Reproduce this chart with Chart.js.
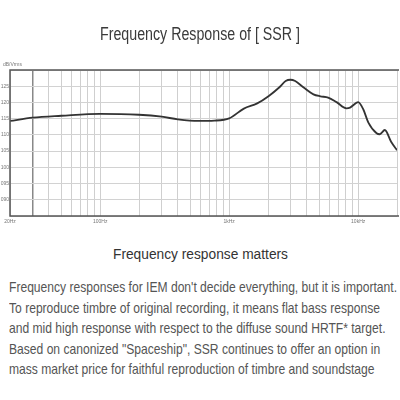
<!DOCTYPE html>
<html>
<head>
<meta charset="utf-8">
<script src="https://cdn.jsdelivr.net/npm/chart.js@4"></script>
<style>
  html, body { margin: 0; padding: 0; background: #fff; }
  body { width: 400px; height: 400px; position: relative; overflow: hidden; font-family: "Liberation Sans", sans-serif; }
  #wrap { position: absolute; left: 0; top: 0; width: 400px; height: 232px; }
  .t { position: absolute; white-space: nowrap; transform-origin: 0 0; }
  #title { top: 24px; font-size: 18px; color: #3a3a3a; }
  #unit { left: 3px; top: 61px; font-size: 5px; color: #777; }
  #sub { top: 245px; font-size: 15.5px; color: #333; }
  .p { left: 9px; font-size: 14.5px; color: #555; }
</style>
</head>
<body>
<div id="wrap"><canvas id="fr" width="400" height="232"></canvas></div>
<div class="t" id="title">Frequency Response of [ SSR ]</div>
<div class="t" id="unit">dB/Vrms</div>
<div class="t" id="sub">Frequency response matters</div>
<div class="t p" style="top:279px">Frequency responses for IEM don't decide everything, but it is important.</div>
<div class="t p" style="top:300px">To reproduce timbre of original recording, it means flat bass response</div>
<div class="t p" style="top:320px">and mid high response with respect to the diffuse sound HRTF* target.</div>
<div class="t p" style="top:341px">Based on canonized "Spaceship", SSR continues to offer an option in</div>
<div class="t p" style="top:361px">mass market price for faithful reproduction of timbre and soundstage</div>
<script>
// 頻率 (Hz)
const freqs = [20, 30, 50, 100, 200, 300, 400, 575, 770, 1000, 1300, 1650, 2030, 2440, 2740, 2980, 3250, 3780, 4500, 5100, 5850, 6800, 8100, 8650, 10000, 10950, 12000, 13900, 14700, 16100, 18000, 20000];
// 響應 (dB)
const levels = [114.3, 115.3, 115.9, 116.5, 116.2, 115.6, 114.8, 114.3, 114.4, 115.1, 118.1, 119.7, 122.0, 124.6, 126.6, 127.0, 126.6, 124.6, 122.5, 121.9, 121.5, 120.1, 118.2, 118.4, 120.1, 117.9, 113.8, 110.5, 110.2, 111.5, 107.9, 105.3];

// 刻度
const xLabels = { 20: '20Hz', 100: '100Hz', 1000: '1kHz', 10000: '10kHz' };
const yMin = 85, yMax = 130, yStep = 5;

// 對數格線 20Hz..20kHz
const xGrid = [];
for (let d = 10; d <= 10000; d *= 10) {
    for (let m = 1; m <= 9; m++) {
        const f = d * m;
        if (f >= 20 && f <= 20000) xGrid.push(f);
    }
}
xGrid.push(20000);

// 窄字體: 沒有 condensed 字型, 用 scaleX 壓縮
function squeeze(el, width, center) {
    const w = el.getBoundingClientRect().width;
    const s = width / w;
    el.style.transform = `scaleX(${s})`;
    if (center) el.style.left = (200 - width / 2) + 'px';
    return s;
}
squeeze(document.getElementById('title'), 200, true);
squeeze(document.getElementById('sub'), 175, true);
const paras = document.querySelectorAll('.p');
const ps = 388 / paras[0].getBoundingClientRect().width;
paras.forEach(el => { el.style.transform = `scaleX(${ps})`; });

// 外框
const frame = {
    id: 'frame',
    afterDraw(chart) {
        const { ctx, chartArea: a } = chart;
        ctx.save();
        ctx.strokeStyle = '#555';
        ctx.lineWidth = 1.5;
        ctx.beginPath();
        ctx.moveTo(a.right + 2, a.top);
        ctx.lineTo(a.left, a.top);
        ctx.lineTo(a.left, a.bottom);
        ctx.lineTo(a.right + 2, a.bottom);
        ctx.stroke();
        ctx.restore();
    }
};

new Chart(document.getElementById('fr'), {
    type: 'line',
    data: {
        datasets: [{
            data: freqs.map((f, i) => ({ x: f, y: levels[i] })),
            borderColor: '#333',
            borderWidth: 1.8,
            pointRadius: 0,
            tension: 0.4,
            cubicInterpolationMode: 'monotone',
            fill: false
        }]
    },
    options: {
        responsive: false,
        animation: false,
        devicePixelRatio: 1,
        layout: { padding: { top: 70, right: 0, left: 0, bottom: 0 } },
        plugins: { legend: { display: false }, tooltip: { enabled: false } },
        scales: {
            x: {
                type: 'logarithmic',
                min: 20,
                max: 20000,
                afterBuildTicks(scale) { scale.ticks = xGrid.map(v => ({ value: v })); },
                afterFit(scale) { scale.height = 16; },
                grid: {
                    drawTicks: false,
                    color: ctx => ctx.tick && ctx.tick.value === 30 ? '#888' : '#cfcfcf',
                    lineWidth: ctx => ctx.tick && ctx.tick.value === 30 ? 1.5 : 1
                },
                border: { display: false },
                ticks: {
                    autoSkip: false,
                    maxRotation: 0,
                    padding: 3,
                    color: '#777',
                    font: { size: 5, family: 'Liberation Sans' },
                    callback: v => xLabels[v] || ''
                }
            },
            y: {
                min: yMin,
                max: yMax,
                afterFit(scale) { scale.width = 10; },
                grid: { drawTicks: false, color: '#d2d2d2' },
                border: { display: false },
                ticks: {
                    stepSize: yStep,
                    padding: 1,
                    color: '#777',
                    font: { size: 5, family: 'Liberation Sans' },
                    callback: v => (v === yMin || v === yMax) ? '' : String(v).padStart(3, '0')
                }
            }
        }
    },
    plugins: [frame]
});
</script>
</body>
</html>
